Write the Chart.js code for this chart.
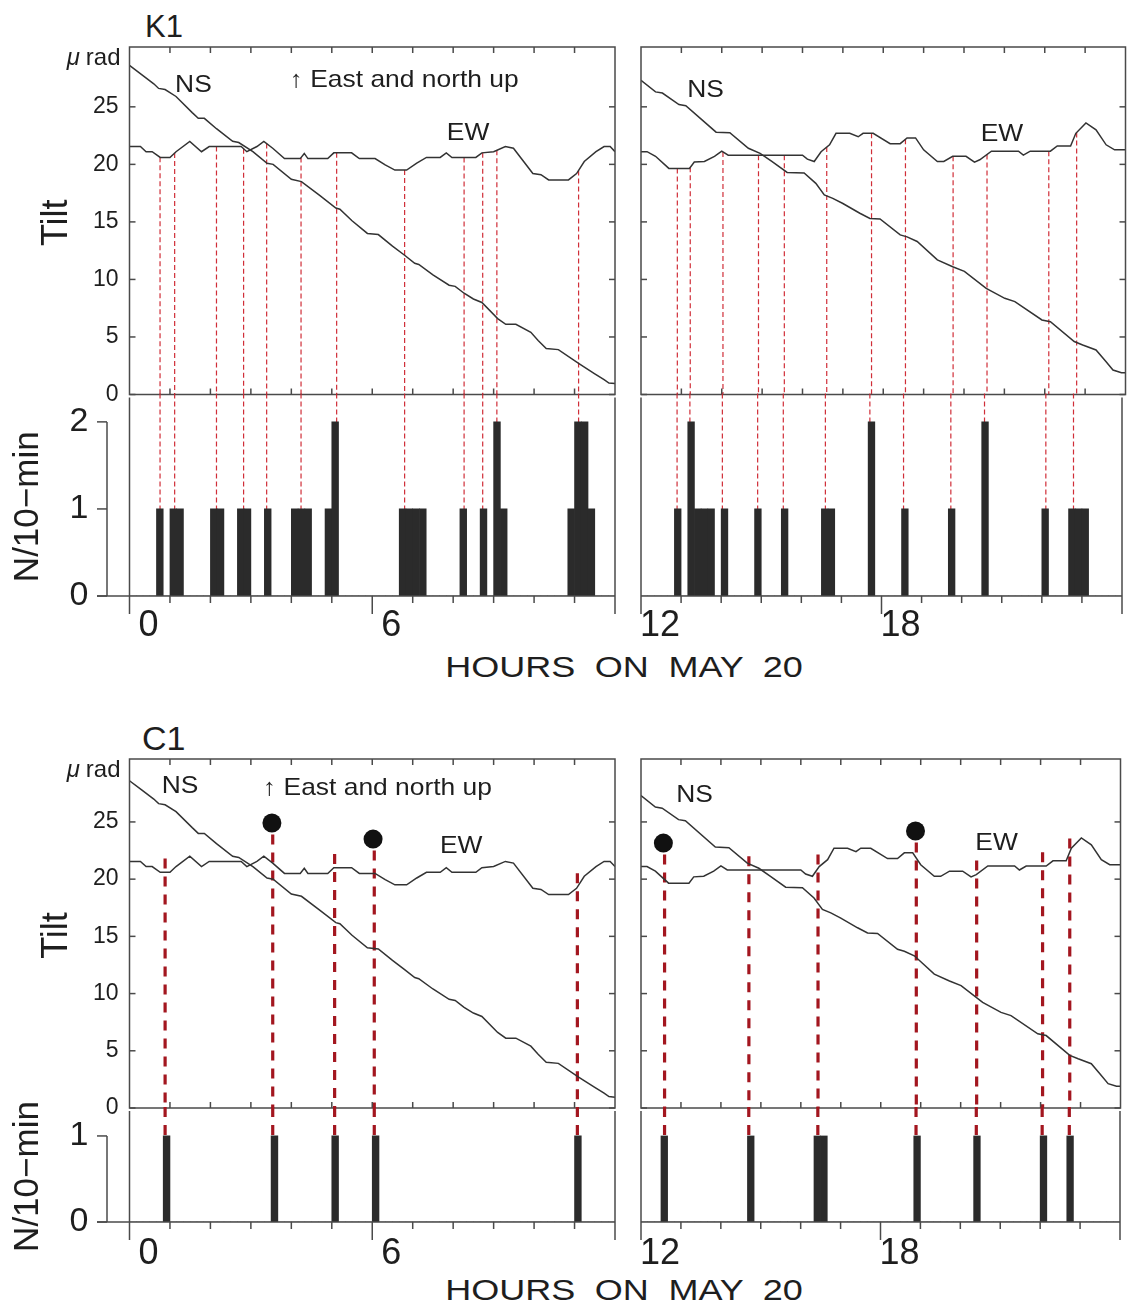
<!DOCTYPE html>
<html lang="en">
<head>
<meta charset="UTF-8">
<title>Tilt and N/10-min, K1 and C1, May 20</title>
<script src="https://cdn.jsdelivr.net/npm/chart.js"></script>
<style>
  body { margin: 0; background: #fff; width: 1130px; height: 1309px; position: relative; overflow: hidden;
         font-family: 'Liberation Sans', Arial, sans-serif; color: #1e1e1e; }
  canvas { position: absolute; }
  .txt { position: absolute; white-space: nowrap; line-height: 1; }
  .hours { font-size: 30px; word-spacing: 8px; transform: translateX(-50%) scaleX(1.2); }
</style>
</head>
<body>
<div class="txt" style="left:145px; top:11px; font-size:31px;">K1</div>
<div class="txt" style="left:142px; top:721px; font-size:34px;">C1</div>
<div class="txt hours" style="left:624px; top:652px;">HOURS ON MAY 20</div>
<div class="txt hours" style="left:624px; top:1275px;">HOURS ON MAY 20</div>

<canvas id="k1TiltAm" width="630" height="421" style="left:0; top:0"></canvas>
<canvas id="k1TiltPm" width="530" height="421" style="left:600px; top:0"></canvas>
<canvas id="k1CountAm" width="630" height="325" style="left:0; top:335px"></canvas>
<canvas id="k1CountPm" width="530" height="325" style="left:600px; top:335px"></canvas>
<canvas id="c1TiltAm" width="630" height="424" style="left:0; top:710px"></canvas>
<canvas id="c1TiltPm" width="530" height="424" style="left:600px; top:710px"></canvas>
<canvas id="c1CountAm" width="630" height="261" style="left:0; top:1048px"></canvas>
<canvas id="c1CountPm" width="530" height="261" style="left:600px; top:1048px"></canvas>

<script>
// ---- data (hours on May 20, tilt in microradian) ----
// the same tilt record is plotted above both stations
const nsHoursAm = [0, 0.3, 0.6, 0.72, 0.88, 1.15, 1.55, 1.7, 1.85, 2.15, 2.55, 2.7, 3.05, 3.4, 3.55, 4.0, 4.25, 4.7, 5.1, 5.2, 5.5, 5.88, 6.15, 6.5, 6.8, 7.05, 7.15, 7.5, 7.9, 8.05, 8.27, 8.5, 8.71, 9.1, 9.3, 9.55, 9.92, 10.1, 10.3, 10.6, 11.1, 11.5, 11.73, 11.85, 12];
const nsTiltAm = [28.6, 27.8, 27.0, 26.6, 26.5, 25.9, 24.5, 24.0, 24.0, 23.1, 22.0, 21.9, 21.1, 20.1, 20.0, 18.7, 18.5, 17.3, 16.2, 16.1, 15.1, 14.0, 13.9, 12.9, 12.1, 11.4, 11.3, 10.4, 9.5, 9.4, 8.8, 8.3, 8.0, 6.6, 6.1, 6.1, 5.4, 4.7, 4.0, 3.9, 2.7, 1.8, 1.3, 1.0, 0.95];
const ewHoursAm = [0, 0.27, 0.41, 0.56, 0.76, 1.0, 1.15, 1.49, 1.78, 1.97, 2.76, 2.9, 3.15, 3.32, 3.54, 3.83, 4.22, 4.32, 4.41, 4.9, 5.05, 5.49, 5.68, 6.07, 6.32, 6.56, 6.85, 7.1, 7.34, 7.68, 7.83, 7.97, 8.56, 8.71, 9.0, 9.29, 9.49, 9.97, 10.17, 10.36, 10.85, 11.05, 11.24, 11.53, 11.73, 11.88, 12];
const ewTiltAm = [21.55, 21.55, 21.1, 21.1, 20.6, 20.6, 21.1, 22.0, 21.1, 21.55, 21.55, 21.1, 21.55, 22.0, 21.4, 20.5, 20.5, 20.95, 20.5, 20.5, 21.0, 21.0, 20.5, 20.5, 19.95, 19.5, 19.5, 20.1, 20.6, 20.6, 21.0, 20.6, 20.6, 21.0, 21.1, 21.55, 21.4, 19.2, 19.1, 18.65, 18.65, 19.2, 20.25, 21.1, 21.55, 21.55, 21.1];
const nsHoursPm = [12, 12.36, 12.53, 12.94, 13.11, 13.86, 14.2, 14.66, 14.95, 15.24, 15.62, 16.04, 16.33, 16.54, 16.75, 17.0, 17.42, 17.67, 17.92, 18.42, 18.59, 18.84, 19.34, 19.72, 20.01, 20.55, 21.01, 21.26, 21.93, 22.14, 22.73, 22.94, 23.27, 23.52, 23.69, 23.9, 24];
const nsTiltPm = [27.3, 26.3, 26.2, 25.2, 25.1, 22.8, 22.75, 21.4, 20.95, 20.25, 19.3, 19.25, 18.35, 17.35, 17.05, 16.6, 15.75, 15.3, 15.25, 13.87, 13.7, 13.3, 11.7, 11.1, 10.7, 9.23, 8.36, 8.07, 6.48, 6.33, 4.6, 4.3, 3.87, 2.85, 2.13, 1.9, 1.9];
const ewHoursPm = [12, 12.15, 12.36, 12.69, 13.2, 13.32, 13.57, 13.82, 14.0, 14.16, 16.0, 16.12, 16.29, 16.46, 16.67, 16.83, 17.17, 17.38, 17.5, 17.75, 18.17, 18.42, 18.59, 18.8, 19.0, 19.34, 19.5, 19.72, 20.05, 20.26, 20.39, 20.68, 21.35, 21.47, 21.64, 22.14, 22.31, 22.64, 22.77, 23.02, 23.27, 23.52, 23.73, 24];
const ewTiltPm = [21.1, 21.1, 20.7, 19.65, 19.65, 20.2, 20.25, 20.7, 21.15, 20.8, 20.8, 20.45, 20.25, 21.1, 21.7, 22.7, 22.7, 22.4, 22.7, 22.7, 21.8, 21.8, 22.3, 22.3, 21.26, 20.25, 20.25, 20.7, 20.7, 20.2, 20.4, 21.15, 21.15, 20.8, 21.15, 21.15, 21.6, 21.6, 22.7, 23.6, 23.0, 21.7, 21.26, 21.26];

// event counts per 10-min bin (bin index = hour * 6)
const k1Bins   = [4, 6, 7, 12, 13, 16, 17, 20, 24, 25, 26, 29, 30, 40, 41, 42, 43, 49, 52, 54, 55, 65, 66, 67, 68,
                  77, 79, 80, 81, 82, 84, 89, 93, 99, 100, 106, 111, 118, 123, 132, 136, 137, 138];
const k1Counts = [1, 1, 1, 1, 1, 1, 1, 1, 1, 1, 1, 1, 2, 1, 1, 1, 1, 1, 1, 2, 1, 1, 2, 2, 1,
                  1, 2, 1, 1, 1, 1, 1, 1, 1, 1, 2, 1, 1, 2, 1, 1, 1, 1];
const c1Bins   = [5, 21, 30, 36, 66, 75, 88, 98, 99, 113, 122, 132, 136];
const c1Counts = [1, 1, 1, 1, 1, 1, 1, 1, 1, 1, 1, 1, 1];

// times of the marked events (dashed lines)
const k1Events = [0.755, 1.116, 2.15, 2.82, 3.39, 4.24, 5.12, 6.8, 8.27, 8.73, 9.08, 11.1,
                  12.9, 13.22, 14.03, 14.91, 15.55, 16.6, 17.71, 18.55, 19.73, 20.57, 22.1, 22.79];
const c1Events = [0.88, 3.54, 5.07, 6.05, 11.07, 12.59, 14.7, 16.43, 18.89, 20.4, 22.05, 22.73];
// large dots above some C1 events
const c1DotHours = [3.52, 6.02, 12.56, 18.87];
const c1DotTilt  = [24.9, 23.5, 23.15, 24.2];

// axis ticks
const tiltTicks = [0, 5, 10, 15, 20, 25];
const k1CountTicks = [0, 1, 2];
const c1CountTicks = [0, 1];
const hourTicksAm = [0, 1, 2, 3, 4, 5, 6, 7, 8, 9, 10, 11, 12];
const hourTicksPm = [12, 13, 14, 15, 16, 17, 18, 19, 20, 21, 22, 23, 24];
const hourLabelsAm = [0, 6];
const hourLabelsPm = [12, 18];

// ---- styling / layout ----
const FONT = "'Liberation Sans', Arial, sans-serif";
const INK = '#1e1e1e';
const CURVE = '#333';
const FRAME = '#4a4a4a';
const BAR = '#2b2b2b';
const dashK1 = { color: 'rgba(205, 35, 45, 0.95)', width: 1.2, pattern: [5, 3] };
const dashC1 = { color: '#a3161f', width: 3.2, pattern: [10, 8] };

const notes = {
  k1TiltAm: [{ text: 'NS', x: 1.58, y: 26.9, align: 'center' },
             { text: '\u2191 East and north up', x: 3.96, y: 27.3, align: 'left' },
             { text: 'EW', x: 8.37, y: 22.7, align: 'center' }],
  k1TiltPm: [{ text: 'NS', x: 13.6, y: 26.4, align: 'center' },
             { text: 'EW', x: 20.94, y: 22.6, align: 'center' }],
  c1TiltAm: [{ text: 'NS', x: 1.25, y: 28.1, align: 'center' },
             { text: '\u2191 East and north up', x: 3.3, y: 27.9, align: 'left' },
             { text: 'EW', x: 8.2, y: 22.9, align: 'center' }],
  c1TiltPm: [{ text: 'NS', x: 13.34, y: 27.3, align: 'center' },
             { text: 'EW', x: 20.9, y: 23.1, align: 'center' }]
};

const panels = {};   // per-canvas settings read by the plugin

function valueAt(xs, ys, t) {
  for (let i = 1; i < xs.length; i++) {
    if (t <= xs[i]) {
      const f = (t - xs[i - 1]) / (xs[i] - xs[i - 1]);
      return ys[i - 1] + f * (ys[i] - ys[i - 1]);
    }
  }
  return ys[ys.length - 1];
}

function countAt(bins, counts, t) {
  const i = bins.indexOf(Math.floor(t * 6));
  return i < 0 ? 0 : counts[i];
}

function line(ctx, x1, y1, x2, y2) {
  ctx.beginPath(); ctx.moveTo(x1, y1); ctx.lineTo(x2, y2); ctx.stroke();
}

function text(ctx, str, x, y, size, align, sx, rot) {
  ctx.save();
  ctx.translate(x, y);
  if (rot) ctx.rotate(rot);
  ctx.scale(sx || 1, 1);
  ctx.font = size + 'px ' + FONT;
  ctx.fillStyle = INK;
  ctx.textAlign = align;
  ctx.textBaseline = 'middle';
  ctx.fillText(str, 0, 0);
  ctx.restore();
}

const panelPlugin = {
  id: 'panel',
  beforeDatasetsDraw(chart) {
    const p = panels[chart.canvas.id];
    const { ctx, chartArea: a, scales: { x, y } } = chart;
    const dash = p.station === 'K1' ? dashK1 : dashC1;
    const events = p.station === 'K1' ? k1Events : c1Events;
    ctx.save();
    ctx.strokeStyle = dash.color;
    ctx.lineWidth = dash.width;
    ctx.setLineDash(dash.pattern);
    events.forEach(t => {
      if (t < x.min || t > x.max) return;
      const px = x.getPixelForValue(t);
      let top, bottom;
      if (p.kind === 'tilt') {
        const ew = p.am ? valueAt(ewHoursAm, ewTiltAm, t) : valueAt(ewHoursPm, ewTiltPm, t);
        let start = ew;
        if (p.station === 'C1') {
          const d = c1DotHours.findIndex(h => Math.abs(h - t) < 0.15);
          start = d >= 0 ? c1DotTilt[d] - 1.0 : ew + 1.2;
        }
        top = y.getPixelForValue(start);
        bottom = a.bottom;
      } else {
        const c = p.station === 'K1' ? countAt(k1Bins, k1Counts, t) : countAt(c1Bins, c1Counts, t);
        top = a.top - 4;
        bottom = y.getPixelForValue(c);
      }
      line(ctx, px, top, px, bottom);
    });
    ctx.restore();
  },
  afterDatasetsDraw(chart) {
    const p = panels[chart.canvas.id];
    const { ctx, chartArea: a, scales: { x, y } } = chart;
    const hours = p.am ? hourTicksAm : hourTicksPm;
    ctx.save();
    ctx.strokeStyle = FRAME;
    ctx.lineWidth = 1.5;
    if (p.kind === 'tilt') {
      ctx.strokeRect(a.left, a.top, a.width, a.height);
      hours.forEach(h => {
        if (h === x.min || h === x.max) return;
        const px = x.getPixelForValue(h);
        line(ctx, px, a.top, px, a.top + 6);
        line(ctx, px, a.bottom, px, a.bottom - 6);
      });
      tiltTicks.forEach(v => {
        const py = y.getPixelForValue(v);
        line(ctx, a.left, py, a.left + 6, py);
        line(ctx, a.right, py, a.right - 6, py);
      });
      (notes[chart.canvas.id] || []).forEach(n => {
        text(ctx, n.text, x.getPixelForValue(n.x), y.getPixelForValue(n.y), 24, n.align, 1.1);
      });
      if (p.am) {
        // unit above the tick labels
        ctx.font = '24px ' + FONT;
        const rx = a.left - 9, ry = a.top + 11;
        text(ctx, 'rad', rx, ry, 24, 'right', 1);
        const w = ctx.measureText('rad').width;
        ctx.save();
        ctx.translate(rx - w - 6, ry);
        ctx.font = 'italic 24px ' + FONT;
        ctx.fillStyle = INK; ctx.textAlign = 'right'; ctx.textBaseline = 'middle';
        ctx.fillText('\u03bc', 0, 0);
        ctx.restore();
        text(ctx, 'Tilt', a.left - 72.5, (a.top + a.bottom) / 2 + 2, 36, 'center', 1, -Math.PI / 2);
      }
    } else {
      line(ctx, a.left, a.top, a.left, a.bottom + 18);
      line(ctx, a.right, a.top, a.right, a.bottom + 18);
      let x0 = a.left;
      if (p.am) {
        const ticks = p.station === 'K1' ? k1CountTicks : c1CountTicks;
        const bx = a.left - 22.5;
        line(ctx, bx, y.getPixelForValue(ticks[ticks.length - 1]), bx, a.bottom);
        ticks.forEach(v => {
          const py = y.getPixelForValue(v);
          line(ctx, bx, py, bx - 10, py);
        });
        x0 = bx - 10;
        text(ctx, 'N/10\u2212min', 28.5, (a.top + a.bottom) / 2 + 10, 35, 'center', 1, -Math.PI / 2);
      }
      line(ctx, x0, a.bottom, a.right, a.bottom);
      const labels = p.am ? hourLabelsAm : hourLabelsPm;
      hours.forEach(h => {
        if (h === x.min || h === x.max) return;
        const px = x.getPixelForValue(h);
        line(ctx, px, a.bottom, px, a.bottom + (labels.includes(h) ? 18 : 7));
      });
    }
    ctx.restore();
  }
};

function tiltChart(id, station, am, yMax, padTop, padBottom) {
  panels[id] = { kind: 'tilt', station, am };
  const nsH = am ? nsHoursAm : nsHoursPm, nsV = am ? nsTiltAm : nsTiltPm;
  const ewH = am ? ewHoursAm : ewHoursPm, ewV = am ? ewTiltAm : ewTiltPm;
  const datasets = [
    { data: nsH.map((h, i) => ({ x: h, y: nsV[i] })), borderColor: CURVE, borderWidth: 1.5, pointRadius: 0 },
    { data: ewH.map((h, i) => ({ x: h, y: ewV[i] })), borderColor: CURVE, borderWidth: 1.5, pointRadius: 0 }
  ];
  if (station === 'C1') {
    const dots = c1DotHours.map((h, i) => ({ x: h, y: c1DotTilt[i] }))
      .filter(d => am ? d.x < 12 : d.x >= 12);
    datasets.push({ data: dots, showLine: false, pointRadius: 9.5, pointBorderWidth: 0,
                    backgroundColor: '#111', pointBackgroundColor: '#111', borderColor: '#111' });
  }
  new Chart(document.getElementById(id), {
    type: 'line',
    data: { datasets },
    options: {
      responsive: false, animation: false, events: [],
      layout: { padding: am ? { left: 0, top: padTop, right: 15, bottom: padBottom }
                            : { left: 41, top: padTop, right: 4.5, bottom: padBottom } },
      plugins: { legend: { display: false }, tooltip: { enabled: false } },
      scales: {
        x: { type: 'linear', display: false, min: am ? 0 : 12, max: am ? 12 : 24 },
        y: {
          display: am, min: 0, max: yMax,
          afterBuildTicks: s => { s.ticks = tiltTicks.map(v => ({ value: v })); },
          afterFit: s => { s.width = am ? 129.5 : 0; },
          grid: { display: false, drawTicks: false },
          border: { display: false },
          ticks: { font: { family: FONT, size: 23 }, color: INK, padding: 11 }
        }
      }
    },
    plugins: [panelPlugin]
  });
}

function countChart(id, station, am, yMax, padTop, axisHeight, labelPad) {
  panels[id] = { kind: 'count', station, am };
  const bins = station === 'K1' ? k1Bins : c1Bins;
  const counts = station === 'K1' ? k1Counts : c1Counts;
  const first = am ? 0 : 72;
  const table = [];
  for (let k = first; k < first + 72; k++) {
    const i = bins.indexOf(k);
    table.push({ x: (k + 0.5) / 6, y: i < 0 ? 0 : counts[i] });
  }
  const yTicks = station === 'K1' ? k1CountTicks : c1CountTicks;
  const hours = am ? hourTicksAm : hourTicksPm;
  const labels = am ? hourLabelsAm : hourLabelsPm;
  new Chart(document.getElementById(id), {
    type: 'bar',
    data: { datasets: [{ data: table, backgroundColor: BAR, borderWidth: 0,
                         barPercentage: 1, categoryPercentage: 1 }] },
    options: {
      responsive: false, animation: false, events: [],
      layout: { padding: am ? { left: 0, top: padTop, right: 15, bottom: 0 }
                            : { left: 41, top: padTop, right: 4.5, bottom: 0 } },
      plugins: { legend: { display: false }, tooltip: { enabled: false } },
      scales: {
        x: {
          type: 'linear', offset: false, min: am ? 0 : 12, max: am ? 12 : 24,
          afterBuildTicks: s => { s.ticks = hours.map(v => ({ value: v })); },
          afterFit: s => { s.height = axisHeight; },
          grid: { display: false, drawTicks: false, offset: false },
          border: { display: false },
          ticks: { autoSkip: false, maxRotation: 0, labelOffset: 19, padding: labelPad,
                   font: { family: FONT, size: 36 }, color: INK,
                   callback: v => labels.includes(v) ? String(v) : '' }
        },
        y: {
          display: am, min: 0, max: yMax,
          afterBuildTicks: s => { s.ticks = yTicks.map(v => ({ value: v })); },
          afterFit: s => { s.width = am ? 129.5 : 0; },
          grid: { display: false, drawTicks: false },
          border: { display: false },
          ticks: { font: { family: FONT, size: 34 }, color: INK, padding: 41 }
        }
      }
    },
    plugins: [panelPlugin]
  });
}

// chart areas: K1 tilt 47-394.5, K1 counts 397.5-596, C1 tilt 759-1108, C1 counts 1111-1222
tiltChart('k1TiltAm', 'K1', true, 30.2, 47, 26.5);
tiltChart('k1TiltPm', 'K1', false, 30.2, 47, 26.5);
countChart('k1CountAm', 'K1', true, 2.28, 62.5, 64, 8);
countChart('k1CountPm', 'K1', false, 2.28, 62.5, 64, 8);
tiltChart('c1TiltAm', 'C1', true, 30.5, 49, 26);
tiltChart('c1TiltPm', 'C1', false, 30.5, 49, 26);
countChart('c1CountAm', 'C1', true, 1.29, 63, 87, 10);
countChart('c1CountPm', 'C1', false, 1.29, 63, 87, 10);
</script>
</body>
</html>
